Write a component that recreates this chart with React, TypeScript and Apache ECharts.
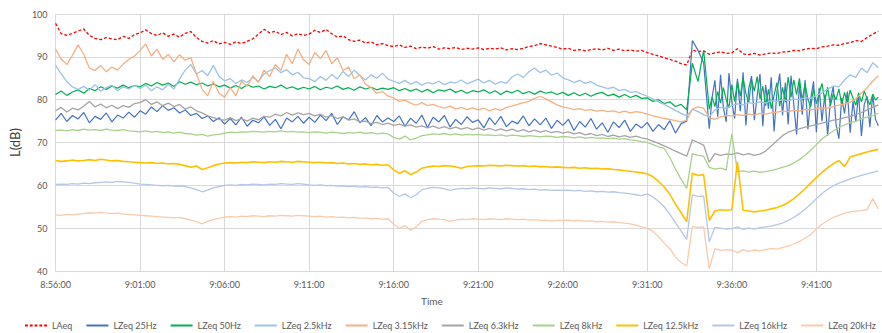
import React, { useEffect, useRef } from "react";
import * as echarts from "echarts";

// Sampling: one value every 20 seconds from 8:56:00;
// the 25Hz / 50Hz tails after 9:34:40 are sampled every 10 seconds.
const START_LABEL_SECONDS = 8 * 3600 + 56 * 60;
const STEP_SECONDS = 20;
const TAIL_START_SECONDS = 2320;
const TAIL_STEP_SECONDS = 10;

const seriesNames = [
  "LAeq",
  "LZeq 25Hz",
  "LZeq 50Hz",
  "LZeq 2.5kHz",
  "LZeq 3.15kHz",
  "LZeq 6.3kHz",
  "LZeq 8kHz",
  "LZeq 12.5kHz",
  "LZeq 16kHz",
  "LZeq 20kHz",
];

const laeq = [
  97.8, 95.4, 95.0, 95.5, 96.0, 96.5, 95.0, 94.3, 94.0, 94.5, 94.2, 94.0, 94.8, 94.3, 95.2,
  95.6, 96.3, 95.4, 95.0, 95.6, 94.8, 95.3, 94.6, 95.5, 95.9, 94.5, 93.6, 93.2, 93.8, 93.0,
  93.4, 92.9, 93.5, 93.1, 93.6, 94.2, 95.3, 96.4, 95.6, 96.0, 95.2, 95.7, 94.9, 95.4, 95.0,
  95.3, 96.2, 95.7, 96.4, 95.4, 94.6, 94.9, 94.0, 93.6, 93.9, 93.2, 93.5, 92.8, 93.1, 92.6,
  92.4, 92.8, 92.2, 92.5, 91.9, 92.3, 92.0, 92.4, 91.8, 92.1, 91.9, 92.2, 91.7, 92.0, 91.8,
  92.1, 91.7, 92.0, 91.8, 92.1, 91.6, 91.9, 91.7, 92.0, 92.4, 92.6, 93.1, 92.8, 92.5, 92.2,
  91.8, 92.0, 91.5, 91.7, 91.4, 91.7, 91.9, 91.6, 92.0, 91.5, 91.8, 91.4, 91.6, 91.3, 91.5,
  91.0, 90.6, 90.2, 89.8, 89.4, 89.0, 88.4, 88.1, 91.6, 91.2, 91.4, 90.6, 90.9, 91.2, 90.8,
  90.9, 91.9, 90.7, 90.5, 90.8, 90.4, 90.7, 90.9, 90.8, 91.1, 91.2, 91.5, 91.4, 91.8, 92.0,
  91.9, 92.3, 92.5, 92.8, 92.7, 93.1, 93.3, 93.8, 93.6, 94.5, 95.3, 96.0,
];

const lzeq25Hz = [
  75.2, 76.8, 74.9, 76.3, 75.5, 77.0, 74.6, 76.1, 75.4, 76.9, 74.8, 76.4, 75.7, 77.1, 75.9,
  77.4, 76.6, 78.3, 77.2, 78.6, 77.5, 78.1, 76.9, 77.6, 76.3, 76.8, 75.6, 76.2, 74.9, 75.8,
  74.3, 75.6, 74.1, 75.9, 73.8, 75.2, 74.6, 76.0, 74.0, 75.4, 73.2, 75.7, 74.8, 76.1, 74.5,
  75.9, 74.7, 76.4, 75.1, 76.8, 74.2, 76.0, 75.3, 77.2, 74.6, 75.8, 73.9, 76.3, 74.8, 75.7,
  74.9, 76.2, 73.8, 75.7, 74.5, 76.4, 73.5, 75.9, 74.8, 76.3, 73.6, 75.4, 74.2, 76.0, 74.7,
  75.3, 73.4, 75.8, 74.2, 76.1, 73.7, 75.0, 74.4, 76.2, 73.9, 75.5, 74.1, 75.7, 73.3, 75.2,
  74.0, 75.4, 72.8, 74.9, 73.6, 75.6, 73.1, 74.6, 72.4, 74.8, 73.5, 75.2, 72.6, 74.3, 73.4,
  74.7, 72.6, 74.2, 73.0, 75.1, 72.2, 74.4, 75.0, 93.8, 91.5, 88.6,
];

const lzeq25HzTail = [
  73.2, 80.5, 84.5, 76.0, 85.8, 78.2, 74.8, 86.2, 79.5, 75.6,
  84.9, 77.3, 86.4, 74.0, 82.6, 85.5, 75.2, 80.9, 86.0, 73.8,
  83.4, 77.9, 85.2, 72.6, 81.8, 86.1, 76.4, 84.0, 74.2, 85.6,
  78.8, 71.9, 83.9, 76.5, 84.6, 73.1, 80.2, 84.3, 72.4, 82.8,
  75.0, 81.2, 71.6, 79.8, 83.1, 74.2, 70.9, 80.4, 76.8, 81.9,
  72.3, 79.6, 74.8, 81.4, 71.5, 78.9, 80.8, 73.6, 81.2, 75.4, 73.9,
];

const lzeq50Hz = [
  81.2, 82.0, 81.0, 81.8, 82.3, 81.5, 82.6, 82.1, 83.0, 82.4, 83.2, 82.7, 83.4, 82.8, 83.3,
  83.0, 83.8, 83.2, 84.0, 83.4, 83.9, 83.1, 84.2, 83.6, 84.1, 83.5, 83.9, 83.2, 83.7, 83.0,
  83.4, 82.7, 83.3, 82.6, 83.5, 82.9, 83.2, 82.5, 83.1, 82.8, 83.4, 82.6, 83.0, 82.4, 82.9,
  82.5, 83.1, 82.3, 82.9, 82.6, 83.2, 82.4, 82.8, 82.2, 83.0, 82.5, 82.9, 82.3, 82.7, 82.4,
  82.8, 82.1, 82.6, 82.0, 82.5, 81.8, 82.4, 81.6, 82.3, 82.0, 82.5, 81.7, 82.2, 81.5, 82.1,
  81.8, 82.3, 81.5, 82.1, 81.2, 82.0, 81.6, 82.2, 81.4, 81.9, 81.3, 82.0, 81.5, 81.8, 81.2,
  81.7, 81.0, 81.6, 80.9, 81.5, 80.8, 81.4, 81.7, 80.9, 81.3, 80.6, 81.2, 80.5, 81.0, 80.3,
  80.4, 79.6, 80.0, 79.1, 79.5, 78.4, 78.9, 77.6, 88.5, 84.2, 91.5,
];

const lzeq50HzTail = [
  77.8, 80.6, 78.4, 81.9, 79.2, 82.8, 80.0, 78.1, 83.5, 79.6,
  84.2, 80.8, 85.1, 81.4, 79.3, 84.6, 82.0, 85.4, 80.2, 83.1,
  78.6, 82.4, 77.9, 81.0, 84.0, 78.5, 82.9, 79.4, 85.3, 80.5,
  84.6, 81.2, 85.0, 79.8, 83.7, 80.1, 78.3, 82.6, 79.0, 81.5,
  83.8, 79.7, 82.9, 78.6, 81.4, 80.0, 82.5, 78.9, 81.7, 79.3,
  82.2, 80.4, 78.7, 81.6, 79.5, 82.0, 80.2, 78.8, 81.3, 79.9, 80.6,
];

const lzeq2500Hz = [
  88.0, 86.0, 84.2, 83.0, 82.4, 83.1, 82.2, 83.5, 82.0, 82.8, 83.4, 82.1, 83.0, 82.5, 83.3,
  82.6, 83.4, 82.1, 83.0, 82.3, 83.6, 82.5, 84.8, 86.9, 88.2, 86.0, 86.8, 85.6, 88.0, 85.4,
  84.4, 84.9, 83.8, 84.6, 84.0, 85.2, 84.3, 86.0, 86.8, 87.4, 86.3, 87.0, 85.8, 86.4, 85.1,
  84.9, 84.2, 85.4, 84.5, 85.9, 84.8, 86.6, 85.4, 86.9, 85.6, 84.6, 85.8, 85.0, 86.2, 84.8,
  84.3, 83.8, 84.5, 83.6, 84.2, 83.4, 84.0, 83.7, 84.3, 83.5, 84.1, 83.9, 84.6, 83.7, 84.2,
  84.8, 83.9, 84.5, 83.6, 84.2, 83.8, 85.3, 86.0, 85.2, 86.5, 87.4, 86.3, 86.9, 85.7, 86.2,
  85.1, 84.6, 84.0, 84.5, 83.8, 84.2, 83.4, 83.0, 82.6, 82.9, 82.1, 82.4, 81.7, 81.9, 81.3,
  80.8, 80.2, 79.5, 78.9, 78.2, 77.5, 76.8, 76.2, 77.8, 77.2, 76.5, 76.0, 77.6, 78.2, 78.0,
  78.6, 79.0, 78.8, 79.3, 79.1, 79.5, 79.2, 79.8, 79.6, 80.0, 79.7, 80.2, 80.0, 80.5, 80.3,
  81.0, 81.6, 82.4, 83.2, 83.0, 84.6, 85.8, 85.2, 87.4, 86.3, 88.6, 87.5,
];

const lzeq3150Hz = [
  91.8, 89.5, 88.2, 90.4, 92.8, 90.6, 87.4, 86.8, 88.0, 86.5, 87.6, 86.9, 88.3, 89.4, 90.2,
  91.5, 93.0, 90.2, 91.8, 89.4, 90.6, 88.8, 90.5, 89.2, 89.8, 86.0, 82.4, 80.9, 84.3, 81.5,
  80.6, 82.8, 80.9, 84.3, 83.1, 85.6, 84.0, 86.9, 85.4, 88.2, 86.8, 90.6, 88.4, 91.8, 89.3,
  88.2, 91.0, 89.6, 91.5, 88.4, 89.8, 86.8, 87.6, 84.9, 85.8, 83.6, 82.8, 81.5, 81.9, 80.8,
  80.4, 79.6, 79.9, 79.2, 78.7, 79.3, 78.6, 78.9, 78.4, 78.0, 78.5, 77.8, 78.2, 77.7, 78.1,
  77.6, 78.0, 77.4, 77.9, 77.5, 78.2, 78.5, 78.9, 79.3, 79.6, 80.3, 80.8, 80.2, 79.5, 78.8,
  78.3, 78.0, 77.7, 77.9, 77.5, 77.7, 77.3, 77.5, 77.2, 77.4, 77.0, 77.3, 76.9, 77.2, 77.0,
  76.6, 76.2, 75.9, 75.6, 75.4, 75.1, 74.8, 75.2, 77.8, 78.3, 78.0, 75.8, 75.4, 76.0, 76.3,
  76.2, 76.5, 76.3, 76.6, 76.4, 76.8, 76.6, 76.9, 77.1, 77.3, 77.2, 77.5, 77.4, 77.7, 77.6,
  77.9, 78.1, 78.0, 78.4, 78.7, 79.0, 79.4, 80.2, 81.5, 82.8, 84.3, 85.6,
];

const lzeq6300Hz = [
  77.4, 78.2, 77.1, 78.0, 77.6, 78.5, 79.6, 78.3, 79.0, 78.1, 78.7, 77.9, 78.6, 78.2, 79.1,
  79.3, 80.0, 78.9, 79.5, 78.6, 79.2, 78.4, 78.9, 77.8, 78.3, 77.4, 76.9, 76.2, 75.8, 75.4,
  75.2, 75.8, 75.1, 75.6, 75.0, 75.7, 75.3, 76.1, 75.9, 76.6, 76.2, 77.0, 76.4, 76.9, 76.5,
  76.8, 76.2, 76.6, 75.9, 76.3, 75.6, 76.0, 75.2, 75.5, 74.8, 75.0, 74.4, 74.7, 74.2, 74.5,
  74.0, 74.3, 73.8, 74.1, 73.6, 73.9, 73.4, 73.8, 73.3, 73.7, 73.2, 73.6, 73.1, 73.5, 73.0,
  73.4, 72.9, 73.3, 72.8, 73.2, 72.7, 73.1, 72.6, 73.0, 72.5, 72.9, 72.4, 72.8, 72.3, 72.6,
  72.2, 72.5, 72.0, 72.3, 71.8, 72.1, 71.6, 71.9, 71.4, 71.7, 71.3, 71.6, 71.2, 71.5, 71.1,
  70.8, 70.3, 69.8, 69.2, 68.6, 68.0, 67.4, 66.8, 70.6, 70.0, 69.4, 65.4, 67.4, 67.0, 67.3,
  67.2, 67.6, 67.1, 67.4, 67.0, 67.3, 68.0, 69.2, 70.4, 71.6, 72.4, 72.9, 73.2, 73.6, 73.9,
  74.2, 74.5, 74.8, 75.2, 75.4, 75.8, 76.1, 76.5, 77.0, 77.6, 78.2, 78.8,
];

const lzeq8kHz = [
  72.8, 72.9, 72.7, 73.0, 72.8, 73.1, 72.9, 73.0, 72.8, 73.1, 72.9, 72.8, 73.0, 72.7, 72.6,
  72.5, 72.7, 72.4, 72.6, 72.3, 72.5, 72.2, 72.4, 72.1, 72.0, 71.7, 71.9, 71.5, 71.8, 71.9,
  72.2, 72.4, 72.3, 72.5, 72.4, 72.6, 72.5, 72.4, 72.6, 72.5, 72.7, 72.5, 72.6, 72.4, 72.5,
  72.3, 72.5, 72.4, 72.2, 72.4, 72.3, 72.1, 72.3, 72.2, 72.4, 72.1, 72.3, 72.0, 72.2, 72.0,
  71.2, 70.8, 71.5, 70.6, 71.0, 71.6, 71.8, 72.0, 71.9, 72.1, 71.8, 72.0, 71.7, 71.9, 71.8,
  71.9, 71.7, 71.8, 71.6, 71.8, 71.5, 71.7, 71.6, 71.4, 71.6, 71.5, 71.3, 71.5, 71.4, 71.2,
  71.4, 71.3, 71.1, 71.3, 71.0, 71.2, 71.0, 71.1, 70.9, 71.0, 70.8, 70.9, 70.6, 70.5, 70.2,
  70.0, 69.5, 69.0, 68.6, 66.5, 63.8, 61.4, 59.3, 67.4, 67.0, 66.8, 64.2, 63.8, 64.0, 63.6,
  72.0, 63.2, 63.4, 63.1, 63.3, 63.0, 63.2, 63.5, 63.8, 64.2, 64.6, 65.2, 66.0, 67.0, 68.2,
  69.5, 70.8, 71.8, 72.7, 73.5, 74.1, 74.6, 75.0, 75.5, 75.9, 76.3, 76.8,
];

const lzeq12500Hz = [
  65.8, 65.6, 65.7, 65.9, 65.7, 65.8, 66.0, 65.8, 66.1, 65.9, 65.7, 65.8, 65.6, 65.5, 65.4,
  65.3, 65.2, 65.3, 65.1, 65.2, 65.0, 65.1, 64.9, 64.6, 64.2, 64.5, 63.7, 64.1, 64.6, 65.0,
  65.2, 65.3, 65.2, 65.4, 65.3, 65.5, 65.4, 65.3, 65.5, 65.4, 65.6, 65.5, 65.4, 65.6, 65.5,
  65.4, 65.3, 65.4, 65.2, 65.3, 65.1, 65.2, 65.0, 65.1, 64.9, 65.0, 64.8, 64.9, 64.7, 64.8,
  63.6, 62.8, 63.4, 62.5, 63.1, 64.0, 64.3, 64.5, 64.4, 64.6, 64.5, 64.3, 64.0, 64.4, 64.5,
  64.6, 64.5, 64.7, 64.6, 64.5, 64.7, 64.6, 64.5, 64.6, 64.4, 64.5, 64.3, 64.4, 64.2, 64.3,
  64.2, 64.1, 64.2, 64.0, 64.1, 63.9, 64.0, 63.8, 63.9, 63.7, 63.6, 63.4, 63.3, 63.1, 62.9,
  62.7, 62.0, 60.9, 59.6, 57.9, 55.6, 53.6, 51.5, 62.8, 62.3, 62.5, 51.8, 54.0, 54.3, 54.2,
  54.3, 65.5, 54.2, 54.0, 53.8, 54.0, 54.2, 54.5, 54.8, 55.3, 56.0, 56.9, 58.0, 59.2, 60.5,
  61.8, 63.0, 64.1, 65.0, 65.8, 64.4, 66.6, 67.0, 67.4, 67.8, 68.1, 68.4,
];

const lzeq16kHz = [
  60.2, 60.3, 60.2, 60.4, 60.3, 60.5, 60.4, 60.6, 60.7, 60.8, 60.7, 60.9, 60.8, 60.7, 60.5,
  60.3, 60.2, 60.1, 60.0, 59.9, 60.0, 59.8, 59.9, 59.7, 59.4, 59.0, 58.5, 58.9, 59.4, 59.7,
  60.0, 60.1, 60.0, 60.2, 60.1, 60.3, 60.2, 60.1, 60.3, 60.2, 60.4, 60.3, 60.2, 60.4, 60.3,
  60.1, 60.0, 60.1, 59.9, 60.0, 59.8, 59.9, 59.7, 59.8, 59.6, 59.7, 59.5, 59.6, 59.4, 59.5,
  58.2, 57.4, 58.0, 57.1, 57.8, 59.0, 59.3, 59.5, 59.4, 59.2, 58.8, 59.1, 59.3, 59.2, 59.4,
  59.3, 59.2, 59.4, 59.3, 59.2, 59.4, 59.3, 59.1, 59.2, 59.0, 59.1, 58.9, 59.0, 58.8, 58.9,
  58.8, 58.9, 58.7, 58.8, 58.6, 58.7, 58.5, 58.6, 58.4, 58.5, 58.3, 58.2, 58.0, 57.8, 57.6,
  58.0, 57.3, 56.3, 55.0, 53.3, 51.3, 49.3, 47.4, 57.8, 57.4, 57.5, 46.8, 50.2, 50.0, 49.8,
  49.9, 50.3, 49.7, 50.0, 49.8, 50.1, 50.3, 50.5, 50.8, 51.2, 51.8, 52.5, 53.4, 54.4, 55.6,
  56.9, 58.1, 59.1, 59.9, 60.5, 61.0, 61.5, 61.9, 62.3, 62.7, 63.0, 63.4,
];

const lzeq20kHz = [
  53.1, 53.0, 53.2, 53.1, 53.3, 53.4, 53.6, 53.5, 53.7, 53.5, 53.4, 53.5, 53.3, 53.2, 53.1,
  53.0, 52.9, 52.8, 52.7, 52.6, 52.5, 52.4, 52.5, 52.2, 51.9, 51.5, 51.0, 51.6, 52.0, 52.3,
  52.6, 52.7, 52.6, 52.8, 52.7, 52.9, 52.8, 52.7, 52.9, 52.8, 53.0, 52.9, 52.8, 53.0, 52.9,
  52.8, 52.7, 52.8, 52.6, 52.7, 52.5, 52.6, 52.4, 52.5, 52.3, 52.4, 52.2, 52.3, 52.1, 52.2,
  50.9, 50.0, 50.6, 49.5, 50.3, 51.6, 52.0, 52.2, 52.1, 52.0, 51.6, 51.9, 52.1, 52.0, 52.2,
  52.1, 52.0, 52.2, 52.1, 52.0, 52.2, 52.1, 52.0, 52.1, 51.9, 52.0, 51.8, 51.9, 51.7, 51.8,
  51.8, 51.9, 51.7, 51.8, 51.6, 51.7, 51.5, 51.6, 51.4, 51.5, 51.3, 51.2, 51.0, 50.7, 50.3,
  49.9, 49.3, 48.0, 46.5, 45.2, 43.3, 42.0, 41.2, 50.4, 50.2, 50.3, 40.5, 45.2, 44.8, 45.0,
  44.9, 44.3, 45.0, 44.6, 44.9, 44.7, 45.0, 45.3, 45.1, 45.5, 45.8, 46.3, 46.9, 47.7, 48.5,
  49.8, 50.9, 51.8, 52.5, 53.0, 53.5, 53.8, 54.0, 54.1, 54.3, 56.9, 54.5,
];

const seriesValues = [
  laeq,
  lzeq25Hz,
  lzeq50Hz,
  lzeq2500Hz,
  lzeq3150Hz,
  lzeq6300Hz,
  lzeq8kHz,
  lzeq12500Hz,
  lzeq16kHz,
  lzeq20kHz,
];

const seriesTails: (number[] | null)[] = [
  null,
  lzeq25HzTail,
  lzeq50HzTail,
  null,
  null,
  null,
  null,
  null,
  null,
  null,
];

const seriesColors = [
  "#FF0000",
  "#4472C4",
  "#00B050",
  "#9DC3E6",
  "#F4B183",
  "#A5A5A5",
  "#A9D18E",
  "#FFC000",
  "#B4C7E7",
  "#F8CBAD",
];

const seriesWidths = [1.3, 1.2, 1.2, 1.3, 1.3, 1.3, 1.3, 1.6, 1.3, 1.3];

const X_MAX_SECONDS = 2933;
const FONT = "Lato, 'Open Sans', sans-serif";
const DASH_ICON =
  "path://M0 0h3v1h-3zM5 0h3v1h-3zM10 0h3v1h-3zM15 0h3v1h-3zM20 0h3v1h-3z";

function formatTime(sec: number): string {
  if (sec % 300 !== 0) return "";
  const total = START_LABEL_SECONDS + sec;
  const h = Math.floor(total / 3600);
  const m = Math.floor((total % 3600) / 60);
  const s = total % 60;
  return `${h}:${String(m).padStart(2, "0")}:${String(s).padStart(2, "0")}`;
}

function buildData(k: number): [number, number][] {
  const main: [number, number][] = seriesValues[k].map((v, i) => [i * STEP_SECONDS, v]);
  const tail = seriesTails[k];
  if (!tail) return main;
  return main.concat(tail.map((v, j) => [TAIL_START_SECONDS + j * TAIL_STEP_SECONDS, v] as [number, number]));
}

export default function App() {
  const ref = useRef<HTMLDivElement>(null);

  useEffect(() => {
    if (!ref.current) return;
    const chart = echarts.init(ref.current, undefined, { renderer: "svg" });

    const series = seriesNames.map((name, k) => ({
      name,
      type: "line",
      symbol: "none",
      showSymbol: false,
      silent: true,
      data: buildData(k),
      lineStyle: {
        color: seriesColors[k],
        width: seriesWidths[k],
        type: k === 0 ? [3, 2] : "solid",
      },
      itemStyle: { color: seriesColors[k] },
    }));

    chart.setOption({
      animation: false,
      backgroundColor: "#ffffff",
      grid: { left: 51, right: 0, top: 14, bottom: 62, containLabel: false },
      xAxis: {
        type: "value",
        min: 0,
        max: X_MAX_SECONDS,
        interval: 300,
        axisLine: { show: true, lineStyle: { color: "#d9d9d9", width: 1 } },
        axisTick: { show: false },
        splitLine: { show: true, lineStyle: { color: "#d9d9d9", width: 1 } },
        axisLabel: {
          color: "#595959",
          fontSize: 9,
          fontFamily: FONT,
          margin: 9,
          showMaxLabel: false,
          formatter: (v: number) => formatTime(v),
        },
      },
      yAxis: {
        type: "value",
        min: 40,
        max: 100,
        interval: 10,
        name: "L(dB)",
        nameLocation: "middle",
        nameGap: 33,
        nameTextStyle: { color: "#404040", fontSize: 13, fontFamily: FONT },
        axisLine: { show: false },
        axisTick: { show: false },
        splitLine: { show: true, lineStyle: { color: "#d9d9d9", width: 1 } },
        axisLabel: { color: "#595959", fontSize: 9, fontFamily: FONT, margin: 8 },
      },
      legend: {
        data: seriesNames.map((n, k) => ({ name: n, icon: k === 0 ? DASH_ICON : "rect" })),
        left: 20,
        top: 316,
        itemWidth: 22,
        itemHeight: 2,
        itemGap: 14,
        symbolKeepAspect: false,
        selectedMode: false,
        itemStyle: { borderWidth: 0 },
        textStyle: { color: "#595959", fontSize: 9, fontFamily: FONT },
      },
      graphic: [
        {
          type: "text",
          left: 421,
          top: 296,
          style: {
            text: "Time",
            fill: "#595959",
            fontSize: 10,
            fontFamily: FONT,
          },
        },
      ],
      series,
    });

    return () => chart.dispose();
  }, []);

  return <div ref={ref} style={{ width: 882, height: 333, position: "absolute", left: 0, top: 0 }} />;
}
